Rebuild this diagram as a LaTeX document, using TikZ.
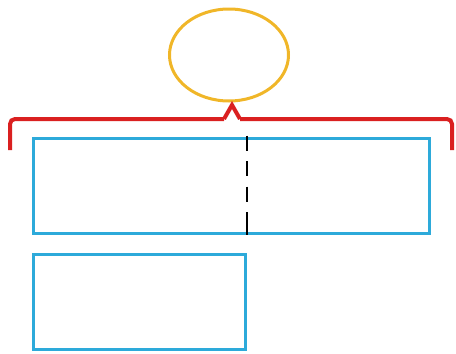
\documentclass[tikz,border=0pt]{standalone}
\usepackage{tikz}
\usepackage{xcolor}
\usetikzlibrary{shapes.geometric}

\definecolor{bracered}{RGB}{218,32,32}
\definecolor{ringgold}{RGB}{240,182,40}
\definecolor{boxblue}{RGB}{45,170,218}

\begin{document}
\begin{tikzpicture}[x=1pt,y=-1pt,
  box/.style={rectangle,draw=boxblue,line width=3pt,inner sep=0pt},
  ring/.style={ellipse,draw=ringgold,line width=3pt,inner sep=0pt,minimum width=119pt,minimum height=92pt},
  brace/.style={draw=bracered,line width=4pt}]
\useasboundingbox (0,0) rectangle (456,354);
\node [ring] (top) at (229,55) {};
\node [box,minimum width=396pt,minimum height=95pt] (whole) at (231,186) {};
\node [box,minimum width=212pt,minimum height=95pt] (part) at (139.5,301.5) {};
\draw [brace,rounded corners=5pt] (10,150) -- (10,119) -- (224,119);
\draw [brace] (224,119) -- (232,105) -- (240,119);
\draw [brace,rounded corners=5pt] (240,119) -- (452,119) -- (452,150);
\coordinate (cut top) at ([yshift=1.5pt]part.east |- whole.north);
\draw [black,line width=2.6pt,dash pattern=on 15pt off 10.5pt on 15pt off 10.5pt on 15pt off 10.5pt on 17pt off 0pt] (cut top) -- (part.east |- whole.south);
\end{tikzpicture}
\end{document}
